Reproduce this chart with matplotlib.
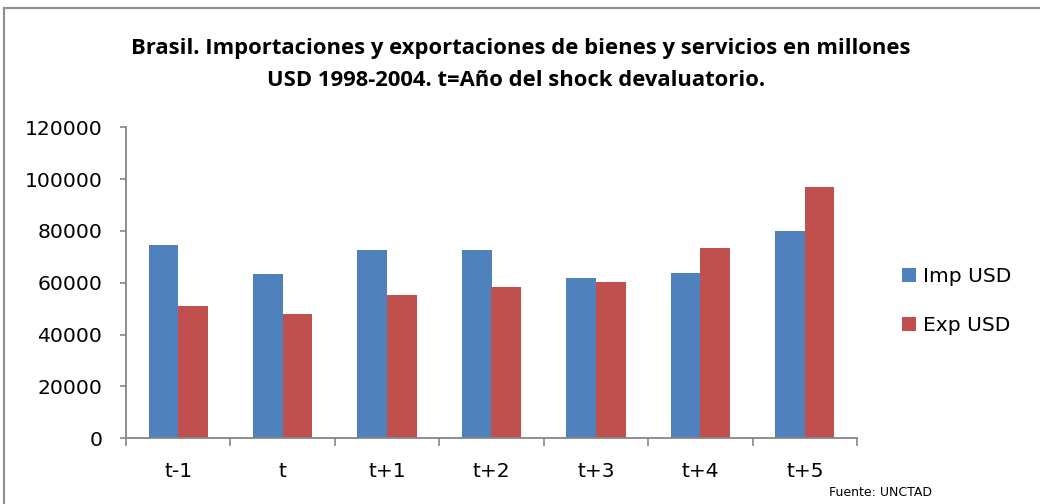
import numpy as np
import matplotlib
matplotlib.use('Agg')
import matplotlib.pyplot as plt
from matplotlib.lines import Line2D

categories = ['t-1', 't', 't+1', 't+2', 't+3', 't+4', 't+5']
imp_usd = [74500, 63400, 72500, 72650, 61850, 63650, 80000]
exp_usd = [51200, 48000, 55200, 58400, 60400, 73300, 96850]
yticks = [0, 20000, 40000, 60000, 80000, 100000, 120000]

title_1 = 'Brasil. Importaciones y exportaciones de bienes y servicios en millones'
title_2 = 'USD 1998-2004. t=Año del shock devaluatorio.'

W, H = 1040, 504
fig = plt.figure(figsize=(W / 100, H / 100), dpi=100)
ax = fig.add_axes([126 / W, 1 - 438.3 / H, (857 - 126) / W, (438.3 - 127.3) / H])

grey = '#868686'
x = np.arange(len(categories))
bw = 0.284
b1 = ax.bar(x - bw / 2, imp_usd, bw, color='#4F81BD', label='Imp USD')
b2 = ax.bar(x + bw / 2, exp_usd, bw, color='#C0504D', label='Exp USD')

ax.set_xlim(-0.5, len(categories) - 0.5)
ax.set_ylim(0, 120000)
ax.set_yticks(yticks)
ax.set_yticklabels([str(v) for v in yticks])

# ticks at category boundaries, labels at centres
ax.set_xticks(np.arange(-0.5, len(categories)), minor=False)
ax.set_xticklabels([])
ax.set_xticks(x, minor=True)
ax.set_xticklabels(categories, minor=True)
ax.tick_params(axis='x', which='major', length=6, color=grey, width=1.2)
ax.tick_params(axis='x', which='minor', length=0, pad=17, labelsize=14.6)
ax.tick_params(axis='y', length=4, color=grey, width=1.2, pad=13, labelsize=14.6)

for s in ['top', 'right']:
    ax.spines[s].set_visible(False)
for s in ['left', 'bottom']:
    ax.spines[s].set_color(grey)
    ax.spines[s].set_linewidth(1.3)

leg = fig.legend(handles=[b1, b2], loc='center left',
                 bbox_to_anchor=(884 / W, 1 - 301 / H), frameon=False,
                 fontsize=14.6, handlelength=0.7, handleheight=0.7,
                 handletextpad=0.3, labelspacing=1.45)

fig.text(521 / W, 1 - 54 / H, title_1, ha='center', va='baseline',
         fontsize=15.8, fontweight='bold', family='Open Sans')
fig.text(516 / W, 1 - 86 / H, title_2, ha='center', va='baseline',
         fontsize=15.8, fontweight='bold', family='Open Sans')
fig.text(829 / W, 1 - 496 / H, 'Fuente: UNCTAD', ha='left', va='baseline',
         fontsize=9)

# chart area border (only top and left visible in the crop)
fig.add_artist(Line2D([4 / W, 1], [1 - 8 / H, 1 - 8 / H], color='#8c8c8c', lw=1.5))
fig.add_artist(Line2D([4 / W, 4 / W], [0, 1 - 8 / H], color='#8c8c8c', lw=1.5))

fig.savefig('out.png', dpi=100)
